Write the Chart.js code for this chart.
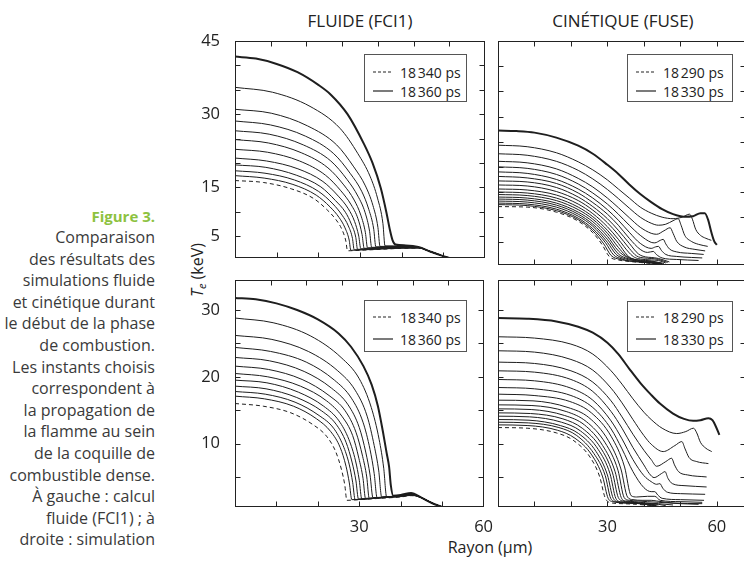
<!DOCTYPE html>
<html lang="fr">
<head>
<meta charset="utf-8">
<title>Figure 3</title>
<script src="https://cdn.jsdelivr.net/npm/chart.js@4.4.1/dist/chart.umd.min.js"></script>
<style>
  html, body { margin: 0; padding: 0; width: 744px; height: 563px; overflow: hidden; background: #fff; }
  body { position: relative; font-family: 'Open Sans', sans-serif; color: #333; }
  canvas { position: absolute; }
  .titre { position: absolute; top: 9px; font-size: 17px; color: #222; transform: translateX(-50%); white-space: nowrap; }
  .legende { position: absolute; border: 1px solid #555; background: #fff; box-sizing: border-box; }
  .ligne { position: absolute; left: 0; height: 16px; display: flex; align-items: center; font-size: 14px; color: #222; white-space: nowrap; }
  .ligne svg { margin: 0 7px 0 8px; }
  #legende-caption { position: absolute; left: 0; width: 155px; text-align: right; font-size: 16px; line-height: 21.6px; color: #3a3a3a; }
  #fig { position: absolute; left: 0; width: 155px; top: 205px; text-align: right; font-size: 15px; font-weight: bold; color: #8dc23f; line-height: 22px; }
  #rayon { position: absolute; left: 490px; top: 536px; transform: translateX(-50%); font-size: 16px; color: #222; white-space: nowrap; }
  #te { position: absolute; left: 198px; top: 270px; transform: translate(-50%, -50%) rotate(-90deg); font-size: 16px; color: #222; white-space: nowrap; line-height: 1; }
  #te sub { font-size: 11px; vertical-align: -3px; }
</style>
</head>
<body>
<div id="fig">Figure 3.</div>
<div id="legende-caption" style="top:227px">Comparaison<br>des résultats des<br>simulations fluide<br>et cinétique durant<br>le début de la phase<br>de combustion.<br>Les instants choisis<br>correspondent à<br>la propagation de<br>la flamme au sein<br>de la coquille de<br>combustible dense.<br>À gauche : calcul<br>fluide (FCI1) ; à<br>droite : simulation</div>

<div class="titre" id="titre-g" style="left:360px"></div>
<div class="titre" id="titre-d" style="left:623px"></div>
<div id="te"><i>T</i><sub><i>e</i></sub> (keV)</div>
<div id="rayon">Rayon (µm)</div>

<canvas id="hg" width="315" height="254" style="left:180px;top:21px"></canvas>
<canvas id="hd" width="268" height="254" style="left:488px;top:21px"></canvas>
<canvas id="bg" width="315" height="287" style="left:180px;top:260px"></canvas>
<canvas id="bd" width="268" height="287" style="left:488px;top:260px"></canvas>

<div class="legende" id="leg-hg" style="left:364px;top:54px;width:103px;height:48px"></div>
<div class="legende" id="leg-hd" style="left:627px;top:54px;width:106px;height:48px"></div>
<div class="legende" id="leg-bg" style="left:364px;top:300px;width:103px;height:52px"></div>
<div class="legende" id="leg-bd" style="left:627px;top:301px;width:106px;height:51px"></div>

<script>
// ---- données : [rayon (µm), Te (keV)] ----
const titres = ['FLUIDE (FCI1)', 'CINÉTIQUE (FUSE)'];
const instantsFluide = ['18\u202f340 ps', '18\u202f360 ps'];
const instantsCinetique = ['18\u202f290 ps', '18\u202f330 ps'];
const graduationsRayon = [30, 60];
const graduationsHaut = [45, 30, 15, 5];
const graduationsBas = [30, 20, 10];

// fluide, haut (première courbe = pointillés, dernière = trait gras)
const fluideHaut = [
  [[0,16.4],[6.8,16.0],[13.5,14.7],[18.9,12.7],[22.1,10.4],[24.3,8.3],[25.7,6.3],[26.6,4.0],[27.0,2.0],[30,2.1],[35,2.3],[40,2.5],[44,2.55],[47,1.8],[50,0.9],[51.5,0.5]],
  [[0,17.4],[7.0,16.9],[13.9,15.6],[19.5,13.4],[22.8,11.0],[25.0,8.8],[26.4,6.7],[27.4,4.2],[27.8,2.1],[31,2.2],[36,2.4],[40,2.55],[44,2.6],[47,1.8],[50,0.9],[51.5,0.5]],
  [[0,18.4],[7.2,17.9],[14.3,16.5],[20.0,14.2],[23.5,11.6],[25.7,9.3],[27.2,7.1],[28.2,4.5],[28.6,2.2],[32,2.3],[36,2.45],[40,2.6],[44,2.6],[47,1.8],[50,0.9],[51.5,0.5]],
  [[0,19.6],[7.4,19.1],[14.7,17.5],[20.6,15.1],[24.1,12.3],[26.5,9.9],[27.9,7.5],[29.0,4.7],[29.4,2.3],[33,2.4],[37,2.5],[40,2.6],[44,2.6],[47,1.8],[50,0.9],[51.5,0.5]],
  [[0,21.0],[7.6,20.4],[15.1,18.8],[21.1,16.2],[24.8,13.2],[27.2,10.6],[28.7,8.0],[29.7,5.0],[30.2,2.4],[34,2.5],[38,2.6],[44,2.65],[47,1.8],[50,0.9],[51.5,0.5]],
  [[0,22.8],[7.8,22.2],[15.5,20.4],[21.7,17.5],[25.4,14.3],[27.9,11.4],[29.5,8.6],[30.5,5.3],[31.0,2.5],[35,2.6],[40,2.7],[44,2.65],[47,1.8],[50,0.9],[51.5,0.5]],
  [[0,24.8],[8.0,24.1],[15.9,22.1],[22.3,19.0],[26.1,15.5],[28.6,12.4],[30.2,9.3],[31.3,5.7],[31.8,2.6],[36,2.7],[40,2.75],[44,2.7],[47,1.8],[50,0.9],[51.5,0.5]],
  [[0,26.6],[8.2,25.9],[16.4,23.7],[23.0,20.4],[26.9,16.6],[29.5,13.2],[31.2,9.9],[32.3,6.0],[32.8,2.7],[36,2.75],[40,2.8],[44,2.7],[47,1.8],[50,0.9],[51.5,0.5]],
  [[0,28.6],[8.5,27.8],[16.9,25.5],[23.7,21.9],[27.7,17.8],[30.4,14.2],[32.1,10.5],[33.3,6.4],[33.8,2.8],[37,2.85],[40,2.85],[44,2.7],[47,1.8],[50,0.9],[51.5,0.5]],
  [[0,31.0],[8.7,30.2],[17.4,27.6],[24.4,23.7],[28.5,19.2],[31.3,15.3],[33.1,11.3],[34.3,6.8],[34.8,2.9],[37,2.9],[40,2.9],[44,2.7],[47,1.8],[50,0.9],[51.5,0.5]],
  [[0,35.5],[9,34.5],[18,31.6],[25.2,27.1],[29.5,21.9],[32.4,17.3],[34.2,12.8],[35.5,7.6],[36.0,3.0],[38,3.0],[41,2.95],[44,2.75],[47,1.8],[50,0.9],[51.5,0.5]],
  [[0,41.8],[5,41.4],[10,40.3],[15,38.6],[20,36.0],[23,34.0],[27,30.0],[31,23.8],[33,20.0],[35,14.8],[36.4,9.6],[37.2,6.2],[37.8,4.2],[38.5,3.3],[41,3.1],[44,2.8],[47,1.8],[50,0.9],[51.5,0.5]]
];

// fluide, bas
const fluideBas = [
  [[0,16.0],[6.8,15.6],[13.5,14.6],[18.9,12.8],[22.1,11.1],[24.3,8.8],[25.7,6.1],[26.5,3.8],[27.0,1.5],[30,1.6],[35,1.8],[40,2.0],[42.5,2.2],[45,1.9],[47.5,1.1],[50,0.5]],
  [[0,17.1],[7.1,16.7],[14.1,15.6],[19.7,13.7],[23.1,11.8],[25.4,9.4],[26.8,6.6],[27.6,4.1],[28.2,1.6],[31,1.7],[36,1.9],[40,2.05],[42.5,2.25],[45,1.9],[47.5,1.1],[50,0.5]],
  [[0,17.8],[7.3,17.4],[14.5,16.2],[20.3,14.2],[23.8,12.3],[26.1,9.7],[27.6,6.8],[28.4,4.2],[29.0,1.6],[32,1.7],[36,1.9],[40,2.1],[42.5,2.3],[45,1.9],[47.5,1.1],[50,0.5]],
  [[0,18.6],[7.5,18.2],[14.9,16.9],[20.9,14.9],[24.4,12.9],[26.8,10.2],[28.3,7.1],[29.2,4.4],[29.8,1.7],[33,1.8],[37,2.0],[40,2.1],[42.5,2.3],[45,1.9],[47.5,1.1],[50,0.5]],
  [[0,19.5],[7.7,19.1],[15.3,17.7],[21.4,15.6],[25.1,13.4],[27.5,10.6],[29.1,7.4],[30.0,4.5],[30.6,1.7],[34,1.85],[38,2.05],[42.5,2.35],[45,1.9],[47.5,1.1],[50,0.5]],
  [[0,20.5],[7.9,20.0],[15.8,18.6],[22.1,16.4],[25.8,14.1],[28.4,11.2],[29.9,7.8],[30.9,4.8],[31.5,1.8],[35,1.9],[39,2.1],[42.5,2.35],[45,1.9],[47.5,1.1],[50,0.5]],
  [[0,21.6],[8.1,21.1],[16.2,19.6],[22.7,17.2],[26.6,14.9],[29.2,11.7],[30.8,8.1],[31.8,5.0],[32.4,1.8],[35,1.9],[39,2.1],[42.5,2.4],[45,1.9],[47.5,1.1],[50,0.5]],
  [[0,22.9],[8.3,22.4],[16.7,20.8],[23.3,18.3],[27.3,15.8],[30.0,12.4],[31.6,8.6],[32.6,5.3],[33.3,1.9],[36,2.0],[40,2.2],[42.5,2.4],[45,1.9],[47.5,1.1],[50,0.5]],
  [[0,24.4],[8.6,23.8],[17.2,22.2],[24.0,19.5],[28.1,16.8],[30.9,13.2],[32.6,9.1],[33.6,5.5],[34.3,1.9],[37,2.0],[40,2.2],[42.5,2.45],[45,1.9],[47.5,1.1],[50,0.5]],
  [[0,26.2],[8.9,25.6],[17.7,23.8],[24.8,20.9],[29.0,18.0],[31.9,14.1],[33.6,9.7],[34.7,5.9],[35.4,2.0],[38,2.1],[40,2.25],[42.5,2.5],[45,1.9],[47.5,1.1],[50,0.5]],
  [[0,28.8],[9.2,28.1],[18.3,26.1],[25.6,22.9],[30.0,19.7],[32.9,15.4],[34.8,10.6],[35.9,6.3],[36.6,2.0],[38.5,2.1],[40.5,2.3],[42.5,2.5],[45,1.9],[47.5,1.1],[50,0.5]],
  [[0,31.8],[5,31.6],[10,31.0],[15,30.0],[20,28.6],[25,26.5],[28,24.5],[31,21.6],[33,18.8],[34.5,15.6],[35.7,11.8],[36.6,8.6],[37.2,6.5],[37.6,3.8],[38.2,2.2],[40,2.3],[42.5,2.6],[45,1.9],[47.5,1.1],[50,0.5]]
];

// cinétique, haut
const cinetiqueHaut = [
  [[0,12.1],[8,12.0],[16,11.0],[22,9.2],[26,6.9],[28.5,4.6],[30.5,2.2],[33,1.5],[36,1.2],[39,1.0],[42,0.8],[44,0.6]],
  [[0,12.5],[8,12.3],[16,11.3],[22,9.5],[26,7.3],[29,4.7],[31,2.4],[33.5,1.6],[36,1.3],[39,1.1],[42,0.9],[44,0.7]],
  [[0,12.8],[8,12.6],[16,11.6],[22,9.8],[26,7.7],[29.5,4.9],[31.7,2.5],[34,1.7],[36,1.3],[39,1.1],[42,0.9],[44.5,0.7]],
  [[0,13.2],[8,13.0],[16,12.0],[22,10.2],[26,8.2],[30,5.0],[32.4,2.6],[34.5,1.8],[37,1.4],[39,1.2],[42,1.0],[44.5,0.7]],
  [[0,13.6],[8,13.4],[16,12.4],[22,10.6],[26,8.6],[30,5.6],[33,2.7],[35,1.9],[37,1.5],[39,1.2],[42,1.0],[45,0.7]],
  [[0,14.0],[8,13.8],[16,12.8],[22,11.0],[26,9.1],[30,6.2],[33,3.3],[35.5,2.0],[37.5,1.6],[39,1.3],[42,1.1],[45,0.8]],
  [[0,14.5],[8,14.3],[16,13.3],[22,11.5],[26,9.6],[30,6.8],[33,4.0],[35,2.4],[36.5,1.8],[39,1.4],[42,1.2],[45,0.8]],
  [[0,15.0],[8,14.8],[16,13.8],[22,12.0],[26,10.1],[30,7.4],[33,4.8],[35.5,2.4],[37,1.7],[39,1.5],[42,1.3],[45.5,0.8]],
  [[0,15.6],[8,15.4],[16,14.4],[22,12.6],[26,10.7],[30,8.1],[33,5.6],[36,2.9],[37.5,2.0],[39,1.7],[42,1.5],[44,1.4],[46,0.9]],
  [[0,16.4],[8,16.2],[16,15.1],[22,13.3],[26,11.4],[30,8.9],[33,6.5],[36,3.8],[38,2.3],[40,1.9],[42,1.8],[44,1.6],[46.5,1.0]],
  [[0,17.2],[8,17.0],[16,15.9],[22,14.0],[26,12.1],[30,9.7],[33,7.4],[36,4.8],[38.5,2.7],[40.5,2.1],[42,2.0],[44,1.8],[47,1.1]],
  [[0,18.1],[8,17.8],[16,16.7],[22,14.8],[26,12.9],[30,10.6],[33,8.4],[36,5.8],[39,3.6],[41,3.0],[42.6,3.2],[43.4,2.6],[45,1.9],[49,1.6],[55,1.4]],
  [[0,19.0],[8,18.7],[16,17.5],[22,15.6],[26,13.8],[30,11.5],[33,9.4],[36,7.0],[39,4.8],[42,3.8],[43.2,4.1],[44,4.2],[44.8,3.4],[46,2.6],[49,2.2],[53,2.0],[56,1.9]],
  [[0,20.0],[8,19.7],[16,18.5],[22,16.6],[26,14.8],[30,12.6],[33,10.6],[36,8.4],[39,6.4],[42,5.0],[43,4.9],[44.5,5.4],[45.3,5.6],[46,4.7],[47,3.7],[49,3.1],[53,2.8],[56.4,2.6]],
  [[0,21.1],[8,20.8],[16,19.6],[22,17.7],[26,16.0],[30,13.8],[33,11.9],[36,9.9],[39,8.0],[42,6.8],[43.5,6.6],[45.5,7.3],[47.2,7.9],[48,6.8],[49,5.2],[51,4.1],[54,3.6],[56.8,3.3]],
  [[0,22.6],[8,22.3],[16,21.1],[22,19.3],[26,17.6],[30,15.5],[33,13.7],[36,11.8],[39,10.0],[42,8.8],[44,8.4],[46,8.6],[48,9.3],[49.4,9.7],[50.2,8.4],[51.2,6.4],[53,5.2],[55,4.6],[57.5,4.2]],
  [[0,24.3],[8,24.0],[16,22.8],[22,21.0],[26,19.4],[30,17.4],[33,15.6],[36,13.8],[39,12.0],[42,10.8],[45,10.0],[48,9.7],[50.5,10.0],[52.5,10.6],[53.3,9.6],[54.2,7.6],[55.5,6.4],[57,5.8],[58.5,5.4]],
  [[0,27.2],[5,27.1],[10,26.8],[16,25.8],[22,24.2],[26,22.6],[30,20.4],[33,18.6],[36,16.5],[39,14.6],[42,13.0],[45,11.6],[48,10.6],[51,10.1],[53.5,10.2],[55.5,10.8],[56.7,10.8],[57.6,9.5],[58.5,7.0],[59.3,5.2],[60,4.5]]
];

// cinétique, bas
const cinetiqueBas = [
  [[0,12.4],[8,12.3],[16,11.6],[20.6,10.5],[25.2,8.0],[27.9,5.0],[29.3,2.0],[30.5,1.2],[34,1.0],[38,0.9],[42.5,0.7]],
  [[0,12.8],[8.2,12.7],[16.3,12.0],[21.1,10.8],[25.7,8.3],[28.7,5.0],[30.2,1.8],[31.5,1.3],[35,1.1],[39,1.0],[43,0.7]],
  [[0,13.2],[8.3,13.1],[16.7,12.4],[21.6,11.2],[26.3,8.5],[29.4,5.2],[30.9,1.8],[32.2,1.3],[35.5,1.1],[39,1.0],[43,0.7]],
  [[0,13.6],[8.5,13.5],[17.1,12.7],[22.1,11.5],[26.9,8.8],[30.0,5.3],[31.6,1.8],[33,1.3],[36,1.1],[39.5,1.0],[43.5,0.7]],
  [[0,14.1],[8.7,14.0],[17.4,13.2],[22.6,11.9],[27.5,9.1],[30.7,5.5],[32.3,1.8],[33.6,1.3],[36.5,1.2],[40,1.0],[44,0.8]],
  [[0,14.6],[8.9,14.5],[17.8,13.7],[23.1,12.3],[28.1,9.4],[31.4,5.6],[33.0,1.9],[34.3,1.4],[37,1.2],[40,1.1],[44,0.9],[46,0.7]],
  [[0,15.2],[9.1,15.1],[18.3,14.2],[23.7,12.8],[28.7,9.7],[32.1,5.8],[33.8,1.9],[35,1.4],[37.5,1.3],[40.5,1.1],[44,1.0],[48,0.8]],
  [[0,15.8],[9.3,15.7],[18.7,14.8],[24.2,13.3],[29.4,10.1],[32.9,6.0],[34.6,1.9],[36,1.5],[38.5,1.4],[41,1.3],[44,1.2],[50,1.0],[55,0.9]],
  [[0,16.5],[9.6,16.4],[19.2,15.4],[24.9,13.9],[30.2,10.5],[33.7,6.2],[35.5,2.0],[37,1.6],[39.5,1.5],[42,1.5],[43.5,1.4],[48,1.1],[56,1.0]],
  [[0,17.4],[9.9,17.2],[19.7,16.3],[25.6,14.6],[31.0,11.1],[34.7,6.5],[36.5,2.2],[38,2.0],[41,2.1],[43,2.1],[44.5,1.5],[50,1.3],[56,1.2]],
  [[0,18.4],[10,18.2],[20,17.2],[26,15.4],[31,12.2],[34,9.2],[37,5.8],[40,3.4],[42,2.8],[43,2.8],[43.8,2.3],[45,1.8],[50,1.6],[56.5,1.5]],
  [[0,19.6],[10,19.4],[20,18.3],[26,16.5],[31,13.4],[34,10.7],[37,7.6],[40,5.2],[42,4.3],[43.5,3.9],[44.4,4.0],[45.2,3.3],[46.5,2.7],[50,2.5],[56.8,2.4]],
  [[0,20.9],[10,20.7],[20,19.6],[26,17.8],[31,14.8],[34,12.3],[37,9.4],[40,6.8],[41.5,5.5],[42.8,4.9],[44.8,5.5],[45.8,5.8],[46.6,4.8],[47.8,4.0],[51,3.7],[57.2,3.5]],
  [[0,22.2],[10,22.0],[20,20.9],[26,19.2],[31,16.4],[34,14.0],[37,11.4],[40,9.0],[42,7.6],[43.5,6.6],[46,7.3],[47.6,7.8],[48.4,6.8],[49.5,5.8],[52,5.3],[57.2,5.0]],
  [[0,23.9],[10,23.7],[20,22.6],[26,21.0],[31,18.3],[34,16.1],[37,13.6],[40,11.2],[42,9.9],[45.3,8.8],[48.5,9.7],[50.4,10.3],[51.3,9.2],[52.4,7.9],[54.5,7.3],[57.7,7.0]],
  [[0,26.0],[10,25.8],[20,24.9],[26,23.4],[31,20.9],[34,18.9],[37,16.7],[40,14.7],[42,13.6],[45,12.3],[49,11.5],[51.5,11.8],[53.6,12.3],[54.5,11.6],[55.5,10.2],[57,9.3],[58.6,8.8]],
  [[0,28.8],[8,28.7],[16,28.3],[22,27.5],[26,26.6],[30,25.1],[33,23.4],[36,21.2],[39,19.1],[42,17.3],[44.4,16.0],[48,14.5],[51,13.7],[53.5,13.4],[55.5,13.5],[57.7,13.8],[58.8,13.5],[59.7,12.6],[60.7,11.3]]
];

// ---- mise en forme ----
Chart.defaults.font.family = "'Open Sans', sans-serif";
Chart.defaults.color = '#222';

// cadre fermé et graduations tournées vers l'intérieur
const cadre = {
  id: 'cadre',
  afterDraw(chart) {
    const { ctx, chartArea: a, scales } = chart;
    const l = Math.round(a.left) + 0.5, r = Math.round(a.right) - 0.5;
    const t = Math.round(a.top) + 0.5, b = Math.round(a.bottom) - 0.5;
    const L = 5;
    ctx.save();
    ctx.strokeStyle = '#222';
    ctx.lineWidth = 1;
    ctx.strokeRect(l, t, r - l, b - t);
    ctx.beginPath();
    scales.x.ticks.forEach(tk => {
      const px = Math.round(scales.x.getPixelForValue(tk.value)) + 0.5;
      if (px <= l + 1 || px >= r - 1) return;
      ctx.moveTo(px, b); ctx.lineTo(px, b - L);
    });
    scales.xHaut.ticks.forEach(tk => {
      const px = Math.round(scales.xHaut.getPixelForValue(tk.value)) + 0.5;
      if (px <= l + 1 || px >= r - 1) return;
      ctx.moveTo(px, t); ctx.lineTo(px, t + L);
    });
    scales.y.ticks.forEach(tk => {
      const py = Math.round(scales.y.getPixelForValue(tk.value)) + 0.5;
      if (py <= t + 1 || py >= b - 1) return;
      ctx.moveTo(l, py); ctx.lineTo(l + L, py);
      ctx.moveTo(r, py); ctx.lineTo(r - L, py);
    });
    ctx.stroke();
    ctx.restore();
  }
};

function panneau(id, courbes, o) {
  const datasets = courbes.map((c, i) => ({
    data: c.map(([r, te]) => ({ x: r, y: te })),
    xAxisID: 'x',
    yAxisID: 'y',
    borderColor: '#1e1e1e',
    borderWidth: i === courbes.length - 1 ? 2 : 1,
    borderDash: i === 0 ? [4, 3] : [],
    pointRadius: 0,
    fill: false,
    cubicInterpolationMode: 'monotone'
  }));

  new Chart(document.getElementById(id), {
    type: 'line',
    data: { datasets },
    options: {
      responsive: false,
      animation: false,
      events: [],
      layout: { padding: { left: 0, top: 20, right: 10, bottom: o.basPadding } },
      plugins: { legend: { display: false }, tooltip: { enabled: false } },
      scales: {
        x: {
          type: 'linear', position: 'bottom', min: 0, max: o.xMax,
          grid: { display: false }, border: { display: false },
          ticks: {
            display: o.etiquettesX.length > 0,
            stepSize: 10, includeBounds: false, autoSkip: false, maxRotation: 0,
            padding: 2, font: { size: 16.5 }, color: '#222',
            callback: v => o.etiquettesX.includes(v) ? String(v) : ''
          },
          afterFit: s => { s.height = o.hauteurX; }
        },
        xHaut: {
          type: 'linear', position: 'top', min: 0, max: o.hautMax,
          grid: { display: false }, border: { display: false },
          ticks: { display: false, stepSize: o.hautPas, includeBounds: false, autoSkip: false },
          afterFit: s => { s.height = 0; }
        },
        y: {
          type: 'linear', position: 'left', min: o.yMin, max: o.yMax,
          grid: { display: false }, border: { display: false },
          ticks: {
            display: o.etiquettesY.length > 0,
            stepSize: 5, includeBounds: false, autoSkip: false,
            padding: 7, font: { size: 16.5 }, color: '#222',
            callback: v => o.etiquettesY.includes(v) ? String(v) : ''
          },
          afterFit: s => { s.width = o.largeurY; }
        }
      }
    },
    plugins: [cadre]
  });
}

panneau('hg', fluideHaut, { xMax: 60, hautMax: 7, hautPas: 1, yMin: 0.5, yMax: 45,
  etiquettesX: [], etiquettesY: graduationsHaut, largeurY: 55, hauteurX: 0, basPadding: 10 });
panneau('hd', cinetiqueHaut, { xMax: 68, hautMax: 68, hautPas: 10, yMin: 0.5, yMax: 45,
  etiquettesX: [], etiquettesY: [], largeurY: 10, hauteurX: 0, basPadding: 10 });
panneau('bg', fluideBas, { xMax: 60, hautMax: 7, hautPas: 1, yMin: 0.5, yMax: 34.5,
  etiquettesX: graduationsRayon, etiquettesY: graduationsBas, largeurY: 55, hauteurX: 40, basPadding: 0 });
panneau('bd', cinetiqueBas, { xMax: 68, hautMax: 68, hautPas: 10, yMin: 0.5, yMax: 34.5,
  etiquettesX: graduationsRayon, etiquettesY: [], largeurY: 10, hauteurX: 40, basPadding: 0 });

// titres et légendes
document.getElementById('titre-g').textContent = titres[0];
document.getElementById('titre-d').textContent = titres[1];

function legende(id, instants, rangs) {
  const box = document.getElementById(id);
  instants.forEach((txt, i) => {
    const row = document.createElement('div');
    row.className = 'ligne';
    row.style.top = (rangs[i] - 8) + 'px';
    const dash = i === 0 ? 'stroke-dasharray="3,2"' : '';
    row.innerHTML = '<svg width="20" height="4"><line x1="0" y1="2" x2="20" y2="2" stroke="#222" stroke-width="1.2" ' + dash + '/></svg><span></span>';
    row.querySelector('span').textContent = txt;
    box.appendChild(row);
  });
}
legende('leg-hg', instantsFluide, [17, 36]);
legende('leg-hd', instantsCinetique, [17, 36]);
legende('leg-bg', instantsFluide, [16, 38]);
legende('leg-bd', instantsCinetique, [15, 37]);
</script>
</body>
</html>
